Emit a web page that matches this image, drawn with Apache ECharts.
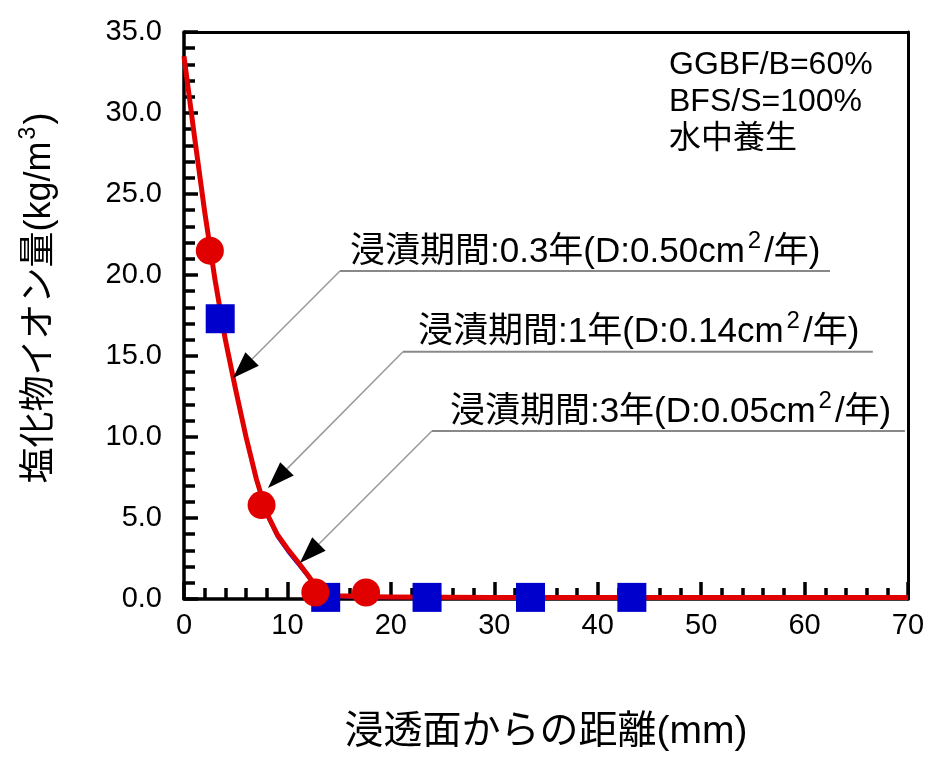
<!DOCTYPE html>
<html><head><meta charset="utf-8">
<script src="https://cdn.jsdelivr.net/npm/echarts@6/dist/echarts.min.js"></script>
<style>html,body{margin:0;padding:0;background:#fff}#c{width:930px;height:758px}</style>
</head><body><div id="c"></div>
<script>
const FONT = "'Liberation Sans','Noto Sans CJK JP',sans-serif";

// measured points (distance mm, chloride kg/m3)
const circleX = [2.5, 7.5, 12.7, 17.6];
const circleY = [21.5, 5.8, 0.4, 0.4];
const squareX = [3.5, 13.7, 23.5, 33.5, 43.3];
const squareY = [17.3, 0.1, 0.1, 0.1, 0.1];

// fitted curves
const curveX    = [0, 1, 2, 3, 4, 5, 6, 7, 8, 9, 10, 11, 12, 12.5, 13, 14, 15, 17, 20, 30, 40, 50, 60, 70];
const curveRed  = [33.5, 28.6, 23.9, 19.7, 16.0, 12.9, 10.0, 7.4, 5.3, 4.0, 3.1, 2.3, 1.45, 1.0, 0.6, 0.3, 0.2, 0.15, 0.12, 0.1, 0.1, 0.1, 0.1, 0.1];
const curveBlue = [33.3, 28.4, 23.7, 19.5, 15.8, 12.7, 9.8, 7.2, 5.1, 3.8, 2.9, 2.1, 1.3, 0.85, 0.5, 0.2, 0.1, 0.05, 0.05, 0.05, 0.05, 0.05, 0.05, 0.05];

// tick labels
const xTicks = [0, 10, 20, 30, 40, 50, 60, 70];
const yTicks = [0, 5, 10, 15, 20, 25, 30, 35];

// annotation texts
const annotTexts = [
  '浸漬期間:0.3年(D:0.50cm{sup|2}/年)',
  '浸漬期間:1年(D:0.14cm{sup|2}/年)',
  '浸漬期間:3年(D:0.05cm{sup|2}/年)'
];
const noteText = 'GGBF/B=60%\nBFS/S=100%\n水中養生';
const xName = '浸透面からの距離(mm)';
const yName = '塩化物イオン量(kg/m{sup|3})';

const pairs = (xs, ys) => xs.map((x, i) => [x, ys[i]]);

const chart = echarts.init(document.getElementById('c'), null, {renderer: 'canvas'});

const xMin = xTicks[0], xMax = xTicks[xTicks.length - 1], yMin = yTicks[0], yMax = yTicks[yTicks.length - 1];
chart.setOption({
  animation: false,
  backgroundColor: '#fff',
  grid: {left: 184, right: 22, top: 32, bottom: 159},
  xAxis: [{
    type: 'value', min: xMin, max: xMax, interval: xTicks[1] - xTicks[0],
    axisLine: {onZero: false, lineStyle: {color: '#000', width: 3.5}},
    axisTick: {show: true, inside: true, length: 17, lineStyle: {color: '#000', width: 3.5}},
    minorTick: {show: true, splitNumber: 5, length: 11, lineStyle: {color: '#000', width: 3.5}},
    splitLine: {show: false},
    axisLabel: {fontSize: 29, color: '#000', fontFamily: FONT, margin: 12},
    name: xName, nameLocation: 'middle', nameGap: 114,
    nameTextStyle: {fontSize: 39, color: '#000', fontFamily: FONT}
  }, {
    type: 'value', position: 'top', min: xMin, max: xMax, interval: xTicks[1] - xTicks[0],
    axisLine: {onZero: false, lineStyle: {color: '#000', width: 3}},
    axisTick: {show: false}, axisLabel: {show: false}, splitLine: {show: false}
  }],
  yAxis: [{
    type: 'value', min: yMin, max: yMax, interval: yTicks[1] - yTicks[0],
    axisLine: {show: true, onZero: false, lineStyle: {color: '#000', width: 3.5}},
    axisTick: {show: true, inside: true, length: 14, lineStyle: {color: '#000', width: 3.5}},
    minorTick: {show: true, splitNumber: 5, length: 11, lineStyle: {color: '#000', width: 3.5}},
    splitLine: {show: false},
    axisLabel: {fontSize: 29, color: '#000', fontFamily: FONT, margin: 22, formatter: v => v.toFixed(1)}
  }, {
    type: 'value', position: 'right', min: yMin, max: yMax, interval: yTicks[1] - yTicks[0],
    axisLine: {show: true, onZero: false, lineStyle: {color: '#000', width: 3}},
    axisTick: {show: false}, axisLabel: {show: false}, splitLine: {show: false}
  }],
  series: [
    {type: 'line', data: pairs(curveX, curveBlue), showSymbol: false, smooth: false,
     lineStyle: {color: '#1010d0', width: 2}, z: 2},
    {type: 'line', data: pairs(curveX, curveRed), showSymbol: false, smooth: false,
     lineStyle: {color: '#e00000', width: 5, join: 'round'}, z: 3},
    {type: 'scatter', data: pairs(squareX, squareY), symbol: 'rect', symbolSize: 29,
     itemStyle: {color: '#0000cc', opacity: 1}, z: 4},
    {type: 'scatter', data: pairs(circleX, circleY), symbol: 'circle', symbolSize: 28,
     itemStyle: {color: '#e00000', opacity: 1}, z: 5}
  ]
});

// annotation geometry in data coordinates: underline start, underline end x, arrow tip
const annotStart = [[15.08, 20.25], [21.17, 15.26], [23.97, 10.37]];
const annotEndX = [62.46, 66.6, 69.7];
const annotTip = [[4.74, 13.64], [8.12, 6.85], [11.2, 2.22]];

const g = [];
annotTexts.forEach((t, i) => {
  const S = chart.convertToPixel({gridIndex: 0}, annotStart[i]);
  const E = chart.convertToPixel({gridIndex: 0}, [annotEndX[i], annotStart[i][1]]);
  const T = chart.convertToPixel({gridIndex: 0}, annotTip[i]);
  const dx = T[0] - S[0], dy = T[1] - S[1];
  const len = Math.hypot(dx, dy);
  const ux = dx / len, uy = dy / len;
  const L = 27, W = 19;
  const B = [T[0] - ux * L, T[1] - uy * L];
  const nx = -uy, ny = ux;
  g.push({type: 'line', shape: {x1: S[0], y1: S[1], x2: E[0], y2: E[1]}, style: {stroke: '#888', lineWidth: 2}, z: 10});
  g.push({type: 'line', shape: {x1: S[0], y1: S[1], x2: B[0], y2: B[1]}, style: {stroke: '#999', lineWidth: 1.5}, z: 10});
  g.push({type: 'polygon', shape: {points: [T, [B[0] + nx * W / 2, B[1] + ny * W / 2], [B[0] - nx * W / 2, B[1] - ny * W / 2]]},
          style: {fill: '#000'}, z: 11});
  g.push({type: 'text', x: S[0] + [10, 15, 18][i], y: S[1] - 19, z: 12,
          style: {text: t, font: '35px ' + FONT, fill: '#000', verticalAlign: 'middle', align: 'left',
                  rich: {sup: {fontSize: 24, fontFamily: FONT, padding: [0, 3, 22, 3]}}}});
});
g.push({type: 'text', x: 669, y: 47, z: 12,
        style: {text: noteText, font: '32px ' + FONT, fill: '#000', lineHeight: 37, verticalAlign: 'top'}});
g.push({type: 'text', x: 40, y: 298, rotation: Math.PI / 2, z: 12,
        style: {text: yName, font: '36px ' + FONT, fill: '#000', align: 'center', verticalAlign: 'middle',
                rich: {sup: {fontSize: 23, fontFamily: FONT, padding: [0, 2, 22, 2]}}}});
chart.setOption({graphic: g});
</script>
</body></html>
